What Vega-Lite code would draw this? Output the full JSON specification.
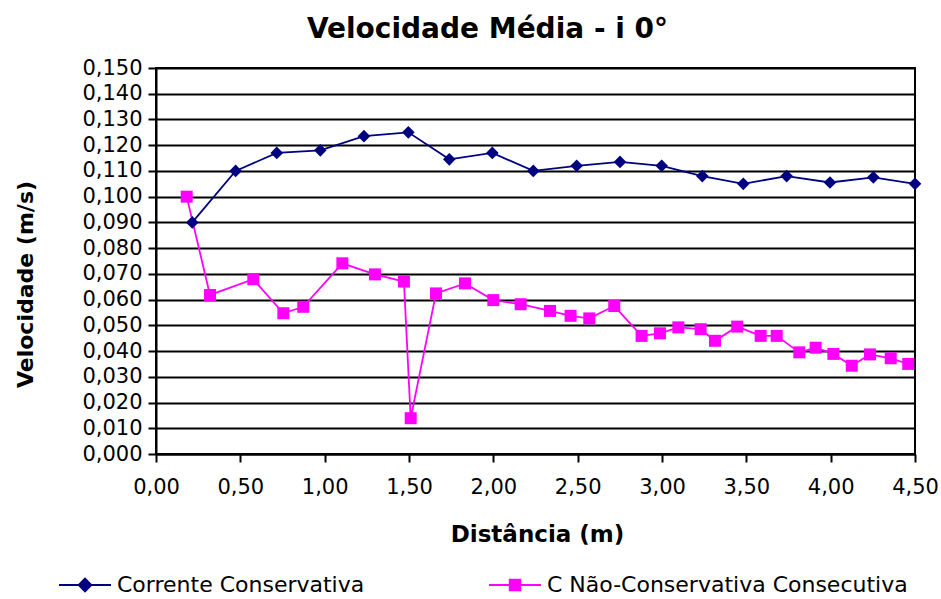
{
  "$schema": "https://vega.github.io/schema/vega-lite/v6.json",
  "autosize": "none",
  "width": 759,
  "height": 386,
  "padding": {"left": 156, "top": 68, "right": 26, "bottom": 145},
  "background": "white",
  "title": {"text": "Velocidade Média - i 0°", "font": "DejaVu Sans", "fontSize": 28, "fontWeight": "bold", "color": "#000", "anchor": "middle", "dx": -48, "offset": 13},
  "config": {
    "view": {"stroke": "#000", "strokeWidth": 2},
    "axis": {"domainColor": "#000", "domainWidth": 2, "tickColor": "#000", "tickWidth": 2, "tickSize": 8, "labelFont": "DejaVu Sans", "labelFontSize": 21, "labelColor": "#000", "titleFont": "DejaVu Sans", "titleFontSize": 23, "titleFontWeight": "bold", "titleColor": "#000"}
  },
  "data": {"values": [
    {"serie": "Corrente Conservativa", "dist": 0.215, "vel": 0.090},
    {"serie": "Corrente Conservativa", "dist": 0.472, "vel": 0.110},
    {"serie": "Corrente Conservativa", "dist": 0.716, "vel": 0.117},
    {"serie": "Corrente Conservativa", "dist": 0.974, "vel": 0.118},
    {"serie": "Corrente Conservativa", "dist": 1.233, "vel": 0.1235},
    {"serie": "Corrente Conservativa", "dist": 1.496, "vel": 0.125},
    {"serie": "Corrente Conservativa", "dist": 1.739, "vel": 0.1145},
    {"serie": "Corrente Conservativa", "dist": 1.994, "vel": 0.117},
    {"serie": "Corrente Conservativa", "dist": 2.237, "vel": 0.110},
    {"serie": "Corrente Conservativa", "dist": 2.494, "vel": 0.112},
    {"serie": "Corrente Conservativa", "dist": 2.751, "vel": 0.1135},
    {"serie": "Corrente Conservativa", "dist": 2.998, "vel": 0.112},
    {"serie": "Corrente Conservativa", "dist": 3.239, "vel": 0.108},
    {"serie": "Corrente Conservativa", "dist": 3.482, "vel": 0.105},
    {"serie": "Corrente Conservativa", "dist": 3.739, "vel": 0.108},
    {"serie": "Corrente Conservativa", "dist": 3.996, "vel": 0.1055},
    {"serie": "Corrente Conservativa", "dist": 4.253, "vel": 0.1075},
    {"serie": "Corrente Conservativa", "dist": 4.5, "vel": 0.105},
    {"serie": "C Não-Conservativa Consecutiva", "dist": 0.182, "vel": 0.100},
    {"serie": "C Não-Conservativa Consecutiva", "dist": 0.320, "vel": 0.0618},
    {"serie": "C Não-Conservativa Consecutiva", "dist": 0.577, "vel": 0.0679},
    {"serie": "C Não-Conservativa Consecutiva", "dist": 0.755, "vel": 0.0547},
    {"serie": "C Não-Conservativa Consecutiva", "dist": 0.873, "vel": 0.0572},
    {"serie": "C Não-Conservativa Consecutiva", "dist": 1.105, "vel": 0.0741},
    {"serie": "C Não-Conservativa Consecutiva", "dist": 1.298, "vel": 0.0698},
    {"serie": "C Não-Conservativa Consecutiva", "dist": 1.470, "vel": 0.0670},
    {"serie": "C Não-Conservativa Consecutiva", "dist": 1.510, "vel": 0.0139},
    {"serie": "C Não-Conservativa Consecutiva", "dist": 1.660, "vel": 0.0624},
    {"serie": "C Não-Conservativa Consecutiva", "dist": 1.832, "vel": 0.0663},
    {"serie": "C Não-Conservativa Consecutiva", "dist": 2.000, "vel": 0.0598},
    {"serie": "C Não-Conservativa Consecutiva", "dist": 2.162, "vel": 0.0582},
    {"serie": "C Não-Conservativa Consecutiva", "dist": 2.336, "vel": 0.0556},
    {"serie": "C Não-Conservativa Consecutiva", "dist": 2.458, "vel": 0.0537},
    {"serie": "C Não-Conservativa Consecutiva", "dist": 2.569, "vel": 0.0527},
    {"serie": "C Não-Conservativa Consecutiva", "dist": 2.717, "vel": 0.0575},
    {"serie": "C Não-Conservativa Consecutiva", "dist": 2.879, "vel": 0.0459},
    {"serie": "C Não-Conservativa Consecutiva", "dist": 2.988, "vel": 0.0469},
    {"serie": "C Não-Conservativa Consecutiva", "dist": 3.097, "vel": 0.0492},
    {"serie": "C Não-Conservativa Consecutiva", "dist": 3.229, "vel": 0.0485},
    {"serie": "C Não-Conservativa Consecutiva", "dist": 3.314, "vel": 0.0440},
    {"serie": "C Não-Conservativa Consecutiva", "dist": 3.446, "vel": 0.0495},
    {"serie": "C Não-Conservativa Consecutiva", "dist": 3.585, "vel": 0.0459},
    {"serie": "C Não-Conservativa Consecutiva", "dist": 3.680, "vel": 0.0459},
    {"serie": "C Não-Conservativa Consecutiva", "dist": 3.814, "vel": 0.0395},
    {"serie": "C Não-Conservativa Consecutiva", "dist": 3.911, "vel": 0.0413},
    {"serie": "C Não-Conservativa Consecutiva", "dist": 4.016, "vel": 0.0389},
    {"serie": "C Não-Conservativa Consecutiva", "dist": 4.125, "vel": 0.0343},
    {"serie": "C Não-Conservativa Consecutiva", "dist": 4.233, "vel": 0.0387},
    {"serie": "C Não-Conservativa Consecutiva", "dist": 4.356, "vel": 0.0372},
    {"serie": "C Não-Conservativa Consecutiva", "dist": 4.460, "vel": 0.0350}
  ]},
  "encoding": {
    "x": {"field": "dist", "type": "quantitative", "scale": {"domain": [0, 4.5], "nice": false, "zero": false},
      "axis": {"title": "Distância (m)", "values": [0, 0.5, 1, 1.5, 2, 2.5, 3, 3.5, 4, 4.5], "labelExpr": "replace(format(datum.value, '.2f'), '.', ',')", "grid": false, "labelPadding": 14, "titleX": 381, "titleY": 87, "titleBaseline": "alphabetic", "titleAnchor": "middle", "labelFlush": false}},
    "y": {"field": "vel", "type": "quantitative", "scale": {"domain": [0, 0.15], "nice": false},
      "axis": {"title": "Velocidade (m/s)", "titleFontSize": 22, "values": [0, 0.01, 0.02, 0.03, 0.04, 0.05, 0.06, 0.07, 0.08, 0.09, 0.1, 0.11, 0.12, 0.13, 0.14, 0.15], "labelExpr": "replace(format(datum.value, '.3f'), '.', ',')", "grid": true, "gridColor": "#000", "gridWidth": 2, "gridOpacity": 1, "labelPadding": 6, "titleX": -131, "titleY": 216, "titleAngle": -90, "titleBaseline": "middle", "titleAlign": "center", "labelFlush": false}}
  },
  "layer": [
    {
      "mark": {"type": "line", "strokeWidth": 1.8},
      "encoding": {
        "color": {"field": "serie", "type": "nominal",
          "scale": {"domain": ["Corrente Conservativa", "C Não-Conservativa Consecutiva"], "range": ["#000080", "#FF00FF"]},
          "legend": {"title": null, "orient": "none", "legendX": -98, "legendY": 490, "direction": "horizontal", "columnPadding": 120, "labelFont": "DejaVu Sans", "labelFontSize": 22, "labelColor": "#000", "labelOffset": 5, "symbolSize": 2704, "symbolStrokeWidth": 2, "labelLimit": 500,
            "encode": {"symbols": {"update": {
              "shape": {"signal": "datum.value === 'Corrente Conservativa' ? 'M-1,0H1M0,-0.24L0.24,0L0,0.24L-0.24,0Z' : 'M-1,0H1M-0.2,-0.2H0.2V0.2H-0.2Z'"},
              "size": {"value": 2704},
              "fill": {"scale": "color", "field": "value"},
              "stroke": {"scale": "color", "field": "value"},
              "strokeWidth": {"value": 2},
              "strokeOpacity": {"value": 1},
              "fillOpacity": {"value": 1},
              "opacity": {"value": 1}
            }}}}
        }
      }
    },
    {
      "transform": [{"filter": "datum.serie === 'Corrente Conservativa'"}],
      "mark": {"type": "point", "filled": true, "opacity": 1, "shape": "diamond", "size": 160},
      "encoding": {
        "color": {"field": "serie", "type": "nominal", "legend": null}
      }
    },
    {
      "transform": [{"filter": "datum.serie !== 'Corrente Conservativa'"}],
      "mark": {"type": "point", "filled": true, "opacity": 1, "shape": "square", "size": 144},
      "encoding": {
        "color": {"field": "serie", "type": "nominal", "legend": null}
      }
    }
  ]
}
